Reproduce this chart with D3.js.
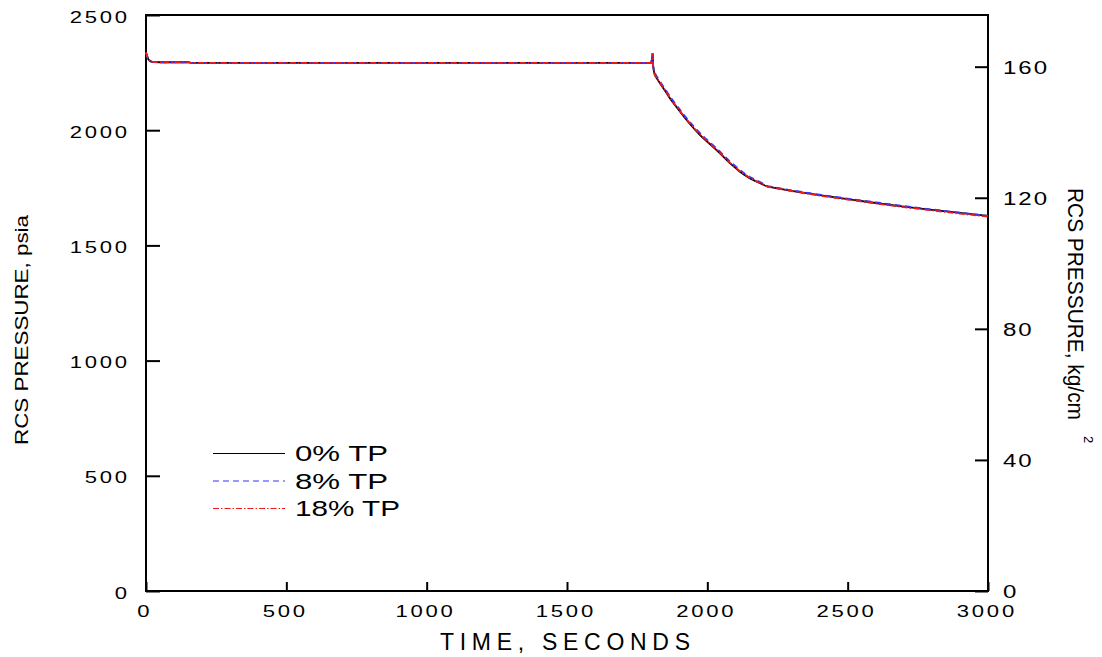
<!DOCTYPE html>
<html>
<head>
<meta charset="utf-8">
<script src="https://cdn.jsdelivr.net/npm/d3@7"></script>
<style>
  html, body { margin: 0; padding: 0; background: #fff; }
  svg { display: block; }
  text { font-family: "Liberation Sans", Arial, Helvetica, sans-serif; fill: #000; }
</style>
</head>
<body>
<svg id="chart" width="1102" height="657"></svg>
<script>
// Transient time, seconds
const times = [0, 3, 6, 10, 15, 22, 30, 50, 100, 150,
  160, 400, 800, 1200, 1600, 1795, 1800, 1803, 1805, 1807,
  1810, 1813, 1820, 1831, 1850, 1867, 1885, 1903, 1920, 1938,
  1956, 1974, 1991, 2009, 2027, 2045, 2063, 2081, 2099, 2116,
  2134, 2152, 2170, 2188, 2205, 2216, 2300, 2400, 2500, 2600,
  2700, 2800, 2900, 3000];

// RCS pressure, psia — 0% tube plugging
const pressure0 = [2337, 2325, 2313, 2305, 2300, 2297, 2296, 2295, 2295, 2295,
  2292, 2292, 2292, 2292, 2292, 2292, 2293, 2310, 2334, 2275,
  2255, 2240, 2225, 2204, 2170, 2138, 2108, 2080, 2053, 2027,
  2002, 1979, 1959, 1940, 1920, 1900, 1878, 1856, 1838, 1820,
  1805, 1791, 1780, 1770, 1760, 1755, 1737, 1718, 1701, 1684,
  1668, 1654, 1641, 1628];

// RCS pressure, psia — 8% tube plugging
const pressure8 = [2336, 2324, 2312, 2304, 2299, 2297, 2296, 2295, 2295, 2295,
  2292, 2292, 2292, 2292, 2292, 2292, 2293, 2308, 2332, 2280,
  2262, 2248, 2233, 2212, 2178, 2146, 2116, 2088, 2061, 2035,
  2010, 1987, 1967, 1947, 1927, 1907, 1885, 1863, 1845, 1827,
  1811, 1797, 1785, 1775, 1763, 1757, 1739, 1720, 1703, 1687,
  1671, 1656, 1642, 1628];

// RCS pressure, psia — 18% tube plugging
const pressure18 = [2338, 2326, 2314, 2306, 2301, 2298, 2296, 2295, 2295, 2295,
  2292, 2292, 2292, 2292, 2292, 2292, 2293, 2311, 2335, 2272,
  2252, 2238, 2226, 2206, 2173, 2141, 2111, 2083, 2056, 2030,
  2005, 1982, 1962, 1942, 1922, 1902, 1880, 1858, 1840, 1822,
  1807, 1793, 1781, 1771, 1760, 1754, 1736, 1716, 1699, 1682,
  1666, 1652, 1638, 1625];

const seriesNames = ["0% TP", "8% TP", "18% TP"];
const timeTicks = [0, 500, 1000, 1500, 2000, 2500, 3000];
const psiaTicks = [0, 500, 1000, 1500, 2000, 2500];
const kgTicks = [0, 40, 80, 120, 160];
const PSI_PER_KGCM2 = 14.223;

const svg = d3.select("#chart");
const plotLeft = 146, plotRight = 988, plotTop = 15, plotBottom = 591;

const x = d3.scaleLinear().domain([0, 3000]).range([plotLeft, plotRight]);
const y = d3.scaleLinear().domain([0, 2500]).range([plotBottom, plotTop]);
const y2 = d3.scaleLinear().domain([0, 2500 / PSI_PER_KGCM2]).range([plotBottom, plotTop]);

svg.append("rect").attr("width", 1102).attr("height", 657).attr("fill", "#fff");

const plain = d3.format("d");
// Tick numerals are drawn horizontally widened and spaced out
const WIDEN = 1.3;
const SPACING = 2.1;

// Left axis (psia)
const gLeft = svg.append("g")
  .attr("transform", `translate(${plotLeft},0)`)
  .call(d3.axisLeft(y).tickValues(psiaTicks).tickFormat(plain)
    .tickSizeInner(-14).tickSizeOuter(0));
gLeft.select(".domain").remove();
gLeft.selectAll(".tick line").attr("stroke", "#000").attr("stroke-width", 2);
gLeft.selectAll(".tick text")
  .attr("x", 0).attr("dy", "0.42em")
  .attr("font-size", 17)
  .style("letter-spacing", SPACING + "px")
  .attr("transform", `translate(${-19 + SPACING * WIDEN},0) scale(${WIDEN},1)`);

// Bottom axis (time)
const gBottom = svg.append("g")
  .attr("transform", `translate(0,${plotBottom})`)
  .call(d3.axisBottom(x).tickValues(timeTicks).tickFormat(plain)
    .tickSizeInner(-9).tickSizeOuter(0));
gBottom.select(".domain").remove();
gBottom.selectAll(".tick line").attr("stroke", "#000").attr("stroke-width", 2);
gBottom.selectAll(".tick text")
  .attr("x", 0).attr("y", 0).attr("dy", 0)
  .attr("font-size", 17)
  .style("letter-spacing", SPACING + "px")
  .attr("transform", `translate(${-3 + SPACING * WIDEN / 2},26) scale(${WIDEN},1)`);

// Right axis (kg/cm2)
const gRight = svg.append("g")
  .attr("transform", `translate(${plotRight},0)`)
  .call(d3.axisRight(y2).tickValues(kgTicks).tickFormat(plain)
    .tickSizeInner(-13).tickSizeOuter(0));
gRight.select(".domain").remove();
gRight.selectAll(".tick line").attr("stroke", "#000").attr("stroke-width", 2);
gRight.selectAll(".tick text")
  .attr("x", 0).attr("dy", "0.36em")
  .attr("font-size", 18.5)
  .style("letter-spacing", "1.5px")
  .attr("transform", `translate(15,0) scale(${WIDEN},1)`);

// Plot frame
svg.append("rect")
  .attr("x", plotLeft).attr("y", plotTop)
  .attr("width", plotRight - plotLeft).attr("height", plotBottom - plotTop)
  .attr("fill", "none").attr("stroke", "#000").attr("stroke-width", 2);

// Curves
const series = [
  { name: seriesNames[0], values: pressure0, color: "#000000", dash: null },
  { name: seriesNames[1], values: pressure8, color: "#3333ff", dash: "6,4" },
  { name: seriesNames[2], values: pressure18, color: "#ee1a1a", dash: "6,2,1.5,2" }
];

const line = d3.line()
  .x(d => x(d[0]))
  .y(d => y(d[1]));

const plot = svg.append("g");
series.forEach(s => {
  plot.append("path")
    .datum(times.map((t, i) => [t, s.values[i]]))
    .attr("d", line)
    .attr("fill", "none")
    .attr("stroke", s.color)
    .attr("stroke-width", 1.8)
    .attr("stroke-dasharray", s.dash);
});

// Legend
const legend = svg.append("g");
const legendRows = [453.5, 481, 508.5];
const legendTextLen = [93, 93, 105];
series.forEach((s, i) => {
  legend.append("line")
    .attr("x1", 213).attr("x2", 285)
    .attr("y1", legendRows[i]).attr("y2", legendRows[i])
    .attr("stroke", s.color).attr("stroke-width", 1.1)
    .attr("stroke-dasharray", s.dash);
  legend.append("text")
    .attr("x", 295).attr("y", legendRows[i] + 7.5)
    .attr("font-size", 22)
    .attr("textLength", legendTextLen[i])
    .attr("lengthAdjust", "spacingAndGlyphs")
    .text(s.name);
});

// Axis titles
svg.append("text")
  .attr("transform", "translate(28,330) rotate(-90)")
  .attr("text-anchor", "middle")
  .attr("font-size", 19)
  .attr("textLength", 230)
  .attr("lengthAdjust", "spacingAndGlyphs")
  .text("RCS PRESSURE, psia");

svg.append("text")
  .attr("x", 565).attr("y", 650)
  .attr("text-anchor", "middle")
  .attr("font-size", 23)
  .attr("textLength", 250)
  .attr("lengthAdjust", "spacing")
  .text("TIME, SECONDS");

svg.append("text")
  .attr("transform", "translate(1068,188) rotate(90)")
  .attr("font-size", 22)
  .attr("textLength", 232)
  .attr("lengthAdjust", "spacingAndGlyphs")
  .text("RCS PRESSURE, kg/cm");

svg.append("text")
  .attr("transform", "translate(1084,436) rotate(90)")
  .attr("font-size", 13)
  .text("2");
</script>
</body>
</html>
